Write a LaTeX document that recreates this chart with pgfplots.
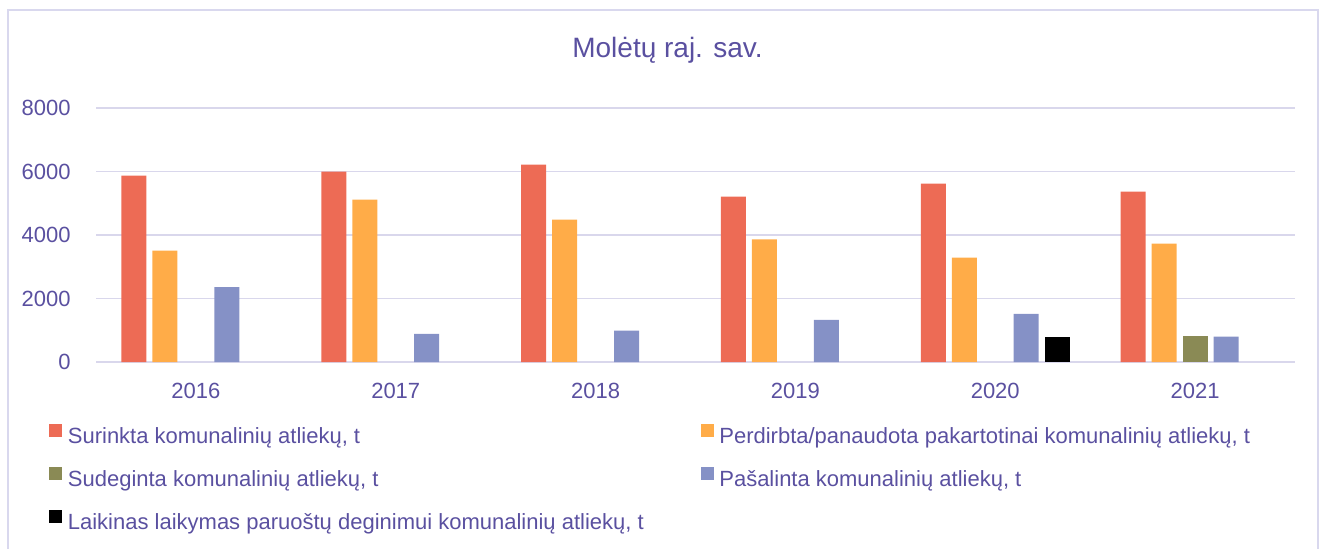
\documentclass[border=0pt]{standalone}
\usepackage{pgfplots}
\pgfplotsset{compat=1.18}
\usepackage{fontspec}
\setmainfont{Liberation Sans}
\definecolor{textcol}{RGB}{90,80,160}
\definecolor{gridcol}{RGB}{217,215,236}
\definecolor{framecol}{RGB}{217,216,238}
\definecolor{cred}{RGB}{237,107,85}
\definecolor{corange}{RGB}{255,172,72}
\definecolor{colive}{RGB}{138,138,85}
\definecolor{cblue}{RGB}{133,145,198}
\definecolor{cblack}{RGB}{0,0,0}
\pgfplotsset{
  mybar/.style={ybar, bar width=0.125, draw=none, fill=#1,
    legend image code/.code={\fill[##1] (0pt,0.5pt) rectangle (6.5pt,7pt);}},
}
\begin{document}
\begin{tikzpicture}
\useasboundingbox (0,0) rectangle (661.5pt,274pt);
\draw[framecol, line width=1pt] (4pt,-5pt) -- (4pt,269pt) -- (659pt,269pt) -- (659pt,-5pt);
\node[anchor=base, font=\fontsize{14}{16}\selectfont, text=textcol] at (333.75pt,245.5pt) {Molėtų raj. sav.};
\begin{axis}[
  at={(48pt,93pt)}, anchor=south west,
  scale only axis, width=599.5pt, height=127pt,
  xmin=-0.5, xmax=5.5, ymin=0, ymax=8000,
  xtick={0,1,2,3,4,5},
  xticklabels={2016,2017,2018,2019,2020,2021},
  ytick={0,2000,4000,6000,8000},
  ymajorgrids, grid style={gridcol, line width=0.8pt},
  axis line style={draw=none},
  major tick length=0pt, tick style={draw=none},
  /pgf/number format/assume math mode=true,
  /pgf/number format/1000 sep={},
  tick label style={font=\fontsize{11}{13}\selectfont, text=textcol},
  yticklabel style={anchor=east, inner sep=0pt, xshift=-12.5pt},
  xticklabel style={anchor=north, inner sep=0pt, yshift=-10.5pt},
  legend columns=2,
  legend style={
    at={(-0.0392,-0.242)}, anchor=north west,
    draw=none, fill=none, inner sep=0pt,
    font=\fontsize{11}{13}\selectfont, text=textcol,
    nodes={inner sep=0pt, text height=8pt, text depth=2.5pt},
    row sep=9.3pt,
    /tikz/every odd column/.style={column sep=2.75pt},
    /tikz/column 2/.style={column sep=28.5pt},
  },
  legend cell align=left,
]
\addplot[mybar=cred, bar shift=-0.31] coordinates {(0,5874) (1,5995) (2,6221) (3,5210) (4,5621) (5,5368)};
\addlegendentry{Surinkta komunalinių atliekų, t}
\addplot[mybar=corange, bar shift=-0.155] coordinates {(0,3505) (1,5116) (2,4484) (3,3863) (4,3284) (5,3726)};
\addlegendentry{Perdirbta/panaudota pakartotinai komunalinių atliekų, t}
\addplot[mybar=colive, bar shift=0] coordinates {(5,821)};
\addlegendentry{Sudeginta komunalinių atliekų, t}
\addplot[mybar=cblue, bar shift=0.155] coordinates {(0,2358) (1,884) (2,990) (3,1326) (4,1516) (5,800)};
\addlegendentry{Pašalinta komunalinių atliekų, t}
\addplot[mybar=cblack, bar shift=0.31] coordinates {(4,789)};
\addlegendentry{Laikinas laikymas paruoštų deginimui komunalinių atliekų, t}
\end{axis}
\end{tikzpicture}
\end{document}
